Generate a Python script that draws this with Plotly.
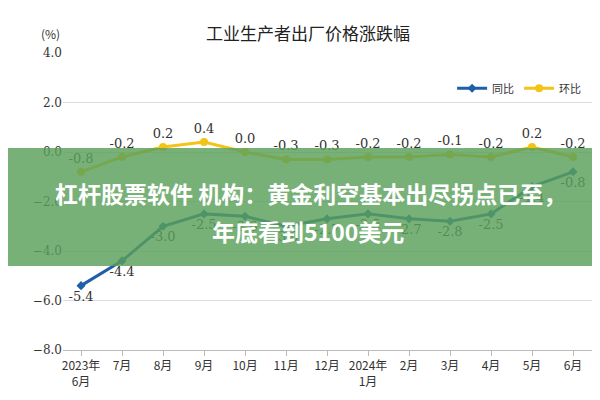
import plotly.graph_objects as go

months = ["2023年<br>6月","7月","8月","9月","10月","11月","12月","2024年<br>1月","2月","3月","4月","5月","6月"]
yoy = [-5.4,-4.4,-3.0,-2.5,-2.6,-3.0,-2.7,-2.5,-2.7,-2.8,-2.5,-1.4,-0.8]
mom = [-0.8,-0.2,0.2,0.4,0.0,-0.3,-0.3,-0.2,-0.2,-0.1,-0.2,0.2,-0.2]

fig = go.Figure()
fig.add_trace(go.Scatter(x=months, y=yoy, name="同比", mode="lines+markers+text",
    line=dict(color="#1f5fa8", width=3), marker=dict(size=7, symbol="diamond"),
    text=[f"{v:.1f}" for v in yoy], textposition="bottom center",
    textfont=dict(size=13, color="#333", family="DejaVu Serif")))
fig.add_trace(go.Scatter(x=months, y=mom, name="环比", mode="lines+markers+text",
    line=dict(color="#f2c417", width=3), marker=dict(size=8),
    text=[f"{v:.1f}" for v in mom], textposition="top center",
    textfont=dict(size=13, color="#333", family="DejaVu Serif")))

fig.add_shape(type="rect", xref="paper", yref="paper", x0=-0.2, x1=1.2, y0=0.283, y1=0.68,
    fillcolor="rgba(90,160,90,0.82)", line=dict(width=0), layer="above")
fig.add_annotation(xref="paper", yref="paper", x=0.465, y=0.53, showarrow=False,
    text="<b>杠杆股票软件 机构：黄金利空基本出尽拐点已至，</b>", font=dict(size=23, color="white", family="Noto Sans CJK SC"))
fig.add_annotation(xref="paper", yref="paper", x=0.46, y=0.40, showarrow=False,
    text="<b>年底看到5100美元</b>", font=dict(size=23, color="white", family="Noto Sans CJK SC"))
fig.add_annotation(xref="paper", yref="paper", x=-0.045, y=1.1, showarrow=False,
    text="(%)", font=dict(size=12, color="#333"))

fig.update_layout(
    width=600, height=400, paper_bgcolor="white", plot_bgcolor="white",
    margin=dict(l=55, r=12, t=45, b=58),
    title=dict(text="工业生产者出厂价格涨跌幅", x=0.5, y=0.95, xanchor="center",
               font=dict(size=17, color="#222", family="Noto Sans CJK SC")),
    font=dict(family="Noto Sans CJK SC", size=12, color="#333"),
    legend=dict(orientation="h", x=0.73, y=0.93, font=dict(size=11), bgcolor="rgba(0,0,0,0)"),
    showlegend=True,
)
fig.update_yaxes(range=[-8, 4], dtick=2, tickformat=".1f", gridcolor="#ddd", zeroline=False,
    showline=False, tickfont=dict(family="DejaVu Serif", size=12))
fig.update_xaxes(showgrid=False, showline=True, linecolor="#bbb", ticks="outside", tickcolor="#bbb",
    tickfont=dict(size=12), range=[-0.44, 12.56])
fig.write_html("out.html")
